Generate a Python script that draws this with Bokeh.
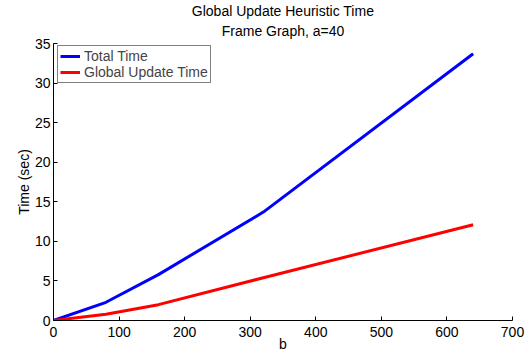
from bokeh.plotting import figure
from bokeh.models import Title, Legend, LegendItem, FixedTicker, Range1d
from bokeh.embed import file_html
from bokeh.resources import INLINE

b_values = [0, 80, 160, 320, 640]
total_time = [0, 2.3, 5.8, 13.7, 33.7]
global_update_time = [0, 0.8, 2.0, 5.4, 12.1]
x_ticks = [0, 100, 200, 300, 400, 500, 600, 700]
y_ticks = [0, 5, 10, 15, 20, 25, 30, 35]
title_text = "Global Update Heuristic Time"
subtitle_text = "Frame Graph, a=40"

FONT = "Liberation Sans"

p = figure(width=530, height=354, output_backend="svg", toolbar_location=None,
           x_range=Range1d(0, 700), y_range=Range1d(0, 35),
           min_border_left=53, min_border_right=18, min_border_top=43, min_border_bottom=34)
p.background_fill_color = "white"
p.border_fill_color = "white"
p.outline_line_color = None
p.xgrid.visible = False
p.ygrid.visible = False

p.title.text = title_text
p.title.align = "center"
p.title.vertical_align = "top"
p.title.text_font = FONT
p.title.text_font_size = "14px"
p.title.text_font_style = "normal"
p.title.text_color = "black"
p.title.standoff = 0
p.title.offset = 0
p.add_layout(Title(text=subtitle_text, align="center", vertical_align="top", text_font=FONT,
                   text_font_size="14px", text_font_style="normal", text_color="black",
                   standoff=5), "above")

for ax in (p.xaxis[0], p.yaxis[0]):
    ax.major_label_text_font = FONT
    ax.major_label_text_font_size = "14px"
    ax.axis_label_text_font = FONT
    ax.axis_label_text_font_size = "14px"
    ax.axis_label_text_font_style = "normal"
    ax.major_tick_in = 4
    ax.major_tick_out = 0
    ax.minor_tick_in = 0
    ax.minor_tick_out = 0
    ax.axis_line_color = "black"
    ax.major_tick_line_color = "black"
    ax.major_label_text_color = "black"
    ax.axis_label_text_color = "black"

p.xaxis.ticker = FixedTicker(ticks=x_ticks)
p.yaxis.ticker = FixedTicker(ticks=y_ticks)
p.xaxis.axis_label = "b"
p.yaxis.axis_label = "Time (sec)"
p.xaxis.major_label_standoff = 6
p.xaxis.axis_label_standoff = -4
p.yaxis.major_label_standoff = 3
p.yaxis.axis_label_standoff = 0

r1 = p.line(b_values, total_time, line_color="#0000FF", line_width=3)
r2 = p.line(b_values, global_update_time, line_color="#FF0000", line_width=3)

legend = Legend(items=[LegendItem(label="Total Time", renderers=[r1]),
                       LegendItem(label="Global Update Time", renderers=[r2])],
                location=(4, 237), margin=0, padding=2, spacing=0,
                label_height=14, glyph_height=14, glyph_width=20, label_standoff=4,
                label_text_font=FONT, label_text_font_size="14px",
                border_line_color="black", border_line_width=1,
                background_fill_alpha=1.0)
p.add_layout(legend)

open("out.html", "w").write(file_html(p, INLINE))
